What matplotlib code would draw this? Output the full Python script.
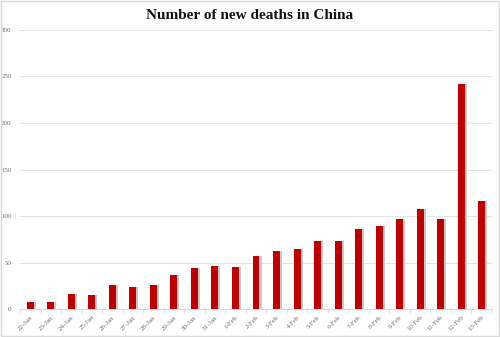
import numpy as np
import matplotlib.pyplot as plt
from matplotlib.patches import Rectangle

# Data
dates = ["22-Jan", "23-Jan", "24-Jan", "25-Jan", "26-Jan", "27-Jan", "28-Jan",
         "29-Jan", "30-Jan", "31-Jan", "1-Feb", "2-Feb", "3-Feb", "4-Feb",
         "5-Feb", "6-Feb", "7-Feb", "8-Feb", "9-Feb", "10-Feb", "11-Feb",
         "12-Feb", "13-Feb"]
new_deaths = [8, 8, 16, 15, 26, 24, 26, 37, 44, 46, 45, 57, 62, 65,
              73, 73, 86, 89, 97, 108, 97, 242, 116]
y_ticks = [0, 50, 100, 150, 200, 250, 300]

plt.rcParams['font.family'] = ['Liberation Serif', 'DejaVu Serif']

fig = plt.figure(figsize=(5, 3.37), dpi=100)
ax = fig.add_axes([0.04, 0.083, 0.944, 0.828])

x = np.arange(len(dates))
# soft shadow behind each bar
ax.bar(x + 0.09, new_deaths, width=0.36, color="#c8c8c8", zorder=2)
ax.bar(x, new_deaths, width=0.34, color="#c00000", zorder=3)

ax.set_ylim(0, 300)
ax.set_xlim(-0.5, len(dates) - 0.5)
ax.set_yticks(y_ticks)
ax.yaxis.grid(True, color="#e4e4e4", linewidth=0.8, zorder=0)
ax.set_axisbelow(True)

ax.set_xticks(x)
ax.set_xticklabels(dates, rotation=45, ha="right", rotation_mode="anchor",
                   fontsize=5, color="#707070")
ax.set_xticks(np.arange(-0.5, len(dates), 1), minor=True)
ax.tick_params(axis="x", which="major", length=0, pad=4)
ax.tick_params(axis="x", which="minor", length=3, color="#d9d9d9")
ax.tick_params(axis="y", length=0, labelsize=5, labelcolor="#707070", pad=6)

for side in ["top", "right", "left"]:
    ax.spines[side].set_visible(False)
ax.spines["bottom"].set_color("#d9d9d9")

fig.text(0.5, 0.955, "Number of new deaths in China", ha="center", va="center",
         fontsize=11, fontweight="bold", color="#111111")

fig.patches.append(Rectangle((0.002, 0.003), 0.995, 0.994, transform=fig.transFigure,
                             fill=False, edgecolor="#d9d9d9", linewidth=1))

fig.savefig("out.png", dpi=100)
